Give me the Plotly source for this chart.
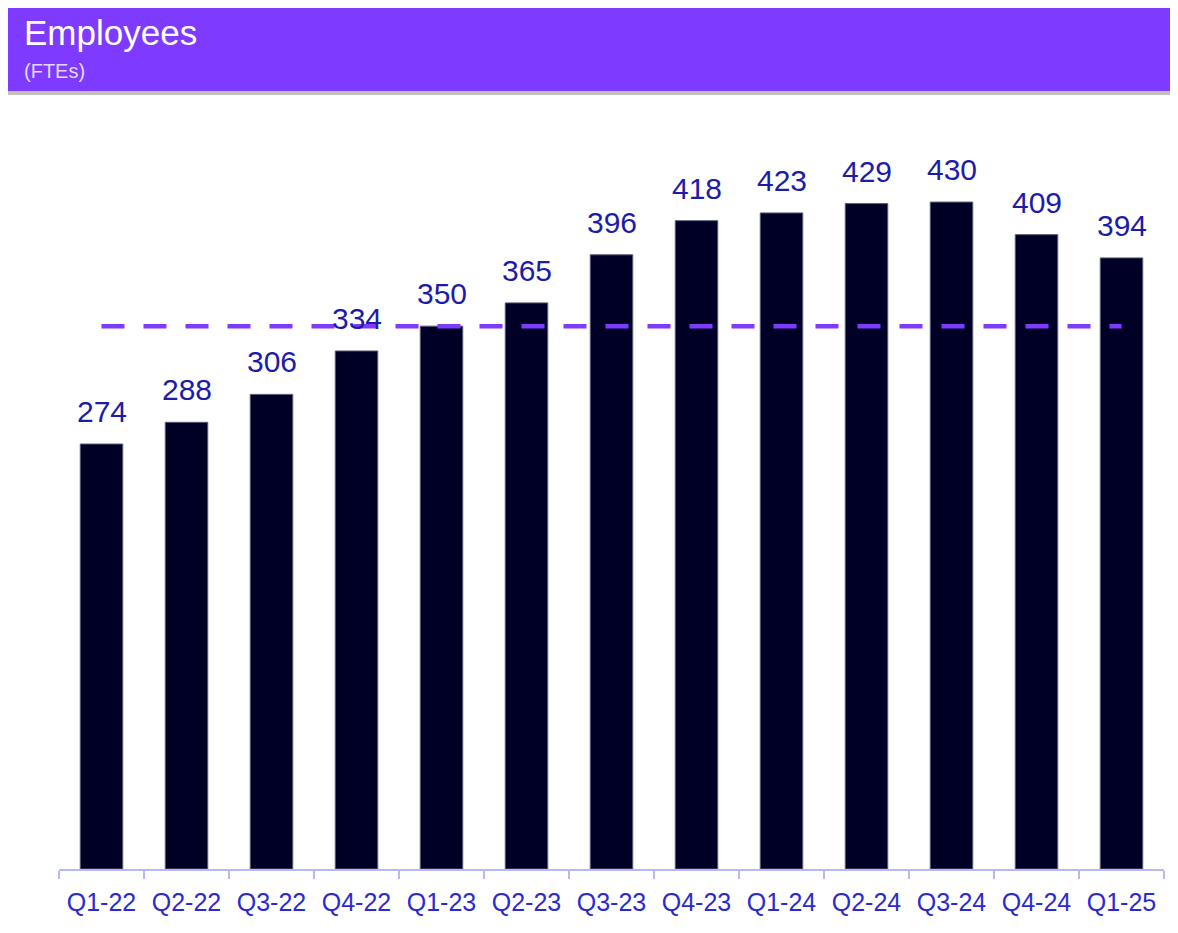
import plotly.graph_objects as go

quarters = ["Q1-22", "Q2-22", "Q3-22", "Q4-22", "Q1-23", "Q2-23", "Q3-23",
            "Q4-23", "Q1-24", "Q2-24", "Q3-24", "Q4-24", "Q1-25"]
employees = [274, 288, 306, 334, 350, 365, 396, 418, 423, 429, 430, 409, 394]
reference_level = [350] * len(quarters)

title_text = "Employees"
subtitle_text = "(FTEs)"

OFF = 8  # page offset of the figure
W, H = 1178 - OFF, 933 - OFF
L, T = 59 - OFF, 150 - OFF
R = W - (1164 - OFF)
B = H - (869 - OFF)
pw, ph = W - L - R, H - T - B

def px(x):
    return (x - OFF - L) / pw

def py(y):
    return (H - B - (y - OFF)) / ph

fig = go.Figure()
fig.add_trace(go.Bar(
    x=quarters, y=employees, width=0.5,
    marker=dict(color="#000026", line=dict(color="#5a5a7a", width=1)),
    hoverinfo="x+y",
))
fig.add_trace(go.Scatter(
    x=quarters, y=reference_level, mode="lines",
    line=dict(color="#7f3aff", width=4.5, dash="23px,19px"),
    hoverinfo="skip",
))

annotations = []
for q, v in zip(quarters, employees):
    annotations.append(dict(
        x=q, y=v, xref="x", yref="y", text=str(v), showarrow=False,
        yanchor="bottom", yshift=14,
        font=dict(family="Liberation Sans, Arial", size=30, color="#1c1ca8"),
    ))
annotations.append(dict(
    x=px(22), y=py(33), xref="paper", yref="paper", text=title_text,
    showarrow=False, xanchor="left", yanchor="middle",
    font=dict(family="Liberation Sans, Arial", size=35, color="#ffffff"),
))
annotations.append(dict(
    x=px(22), y=py(71), xref="paper", yref="paper", text=subtitle_text,
    showarrow=False, xanchor="left", yanchor="middle",
    font=dict(family="Liberation Sans, Arial", size=20, color="#e4d8ff"),
))

shapes = [
    dict(type="rect", xref="paper", yref="paper",
         x0=px(4), x1=px(1174), y0=py(91), y1=py(3),
         fillcolor="#7f3aff", line=dict(width=0), layer="below"),
    dict(type="rect", xref="paper", yref="paper",
         x0=px(4), x1=px(1174), y0=py(95), y1=py(91),
         fillcolor="#c3c0bc", line=dict(width=0), layer="below"),
]

fig.update_layout(
    width=W, height=H,
    margin=dict(l=L, r=R, t=T, b=B),
    paper_bgcolor="white", plot_bgcolor="white",
    showlegend=False,
    annotations=annotations,
    shapes=shapes,
    xaxis=dict(
        type="category", showgrid=False, zeroline=False,
        showline=True, linecolor="#b6b8f4", linewidth=2,
        ticks="outside", tickson="boundaries", ticklen=8,
        tickcolor="#b6b8f4", tickwidth=2,
        ticklabelstandoff=10,
        tickfont=dict(family="Liberation Sans, Arial", size=25, color="#2a2ad0"),
        range=[-0.5, len(quarters) - 0.5],
    ),
    yaxis=dict(
        range=[0, ph / 1.551], showgrid=False, zeroline=False,
        showline=False, showticklabels=False, ticks="",
    ),
)

fig.write_html("out.html")
